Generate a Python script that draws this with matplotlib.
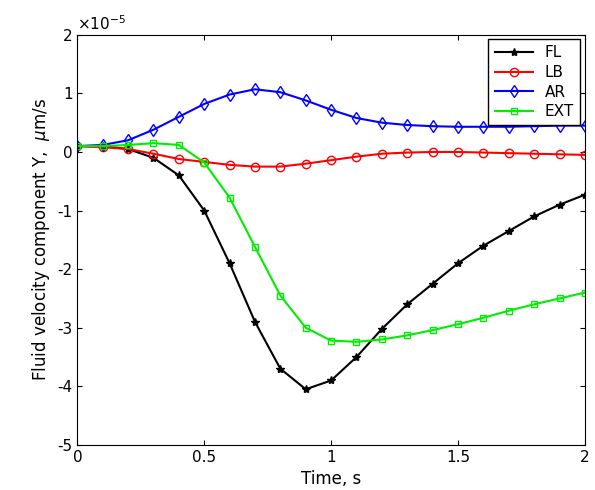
import numpy as np
import matplotlib.pyplot as plt

t = np.round(np.arange(0, 2.01, 0.1), 2)
fl = [0.1, 0.1, 0.05, -0.1, -0.4, -1.0, -1.9, -2.9, -3.7, -4.05, -3.9, -3.5, -3.02, -2.6, -2.25, -1.9, -1.6, -1.35, -1.1, -0.9, -0.73]
lb = [0.1, 0.08, 0.05, -0.03, -0.12, -0.17, -0.22, -0.25, -0.25, -0.2, -0.14, -0.08, -0.03, -0.01, 0.0, 0.0, -0.01, -0.02, -0.03, -0.04, -0.05]
ar = [0.1, 0.12, 0.2, 0.38, 0.6, 0.82, 0.98, 1.07, 1.02, 0.88, 0.72, 0.58, 0.5, 0.46, 0.44, 0.43, 0.43, 0.43, 0.44, 0.45, 0.45]
ext = [0.1, 0.1, 0.12, 0.15, 0.12, -0.18, -0.78, -1.62, -2.45, -3.0, -3.22, -3.24, -3.2, -3.13, -3.04, -2.94, -2.83, -2.71, -2.6, -2.5, -2.4]

fig = plt.figure(figsize=(5.95, 4.9), dpi=100)
ax = fig.add_axes([0.13, 0.092, 0.853, 0.837])

ax.plot(t, np.array(fl) * 1e-5, '-*', color='black', lw=1.5, ms=6, label='FL')
ax.plot(t, np.array(lb) * 1e-5, '-o', color='red', lw=1.5, ms=6, mfc='none', label='LB')
ax.plot(t, np.array(ar) * 1e-5, '-d', color='blue', lw=1.5, ms=6, mfc='none', label='AR')
ax.plot(t, np.array(ext) * 1e-5, '-s', color='#00ee00', lw=1.5, ms=5, mfc='none', label='EXT')

ax.set_xlim(0, 2)
ax.set_ylim(-5e-5, 2e-5)
ax.set_xticks([0, 0.5, 1, 1.5, 2])
ax.set_xticklabels(['0', '0.5', '1', '1.5', '2'])
ax.set_yticks(np.arange(-5, 3) * 1e-5)
ax.set_yticklabels([str(v) for v in range(-5, 3)])
ax.text(0.0, 1.005, r'$\times10^{-5}$', transform=ax.transAxes, fontsize=11, va='bottom')
ax.tick_params(labelsize=11, direction='in', top=True, right=True)
ax.set_xlabel('Time, s', fontsize=12)
ax.set_ylabel(r'Fluid velocity component Y,  $\mu$m/s', fontsize=12)
ax.legend(loc='upper right', fontsize=11, fancybox=False, edgecolor='black', framealpha=1,
          borderaxespad=0.3, labelspacing=0.3, handlelength=2.5)

fig.savefig('out.png')
